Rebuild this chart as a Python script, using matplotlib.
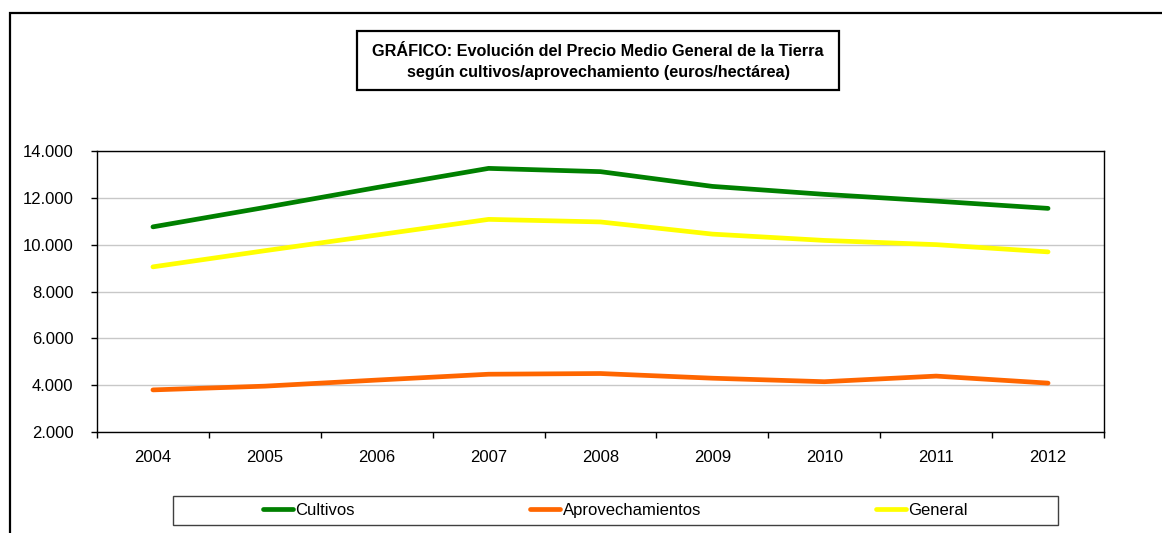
import matplotlib
matplotlib.use("Agg")
import matplotlib.pyplot as plt
from matplotlib.patches import Rectangle
from matplotlib.ticker import FuncFormatter, MultipleLocator
import numpy as np

plt.rcParams['font.family'] = ['Liberation Sans', 'DejaVu Sans']

years = ["2004", "2005", "2006", "2007", "2008", "2009", "2010", "2011", "2012"]
cultivos = [10770, 11600, 12450, 13270, 13130, 12500, 12160, 11870, 11560]
aprovechamientos = [3800, 3960, 4220, 4470, 4500, 4300, 4150, 4390, 4090]
general = [9060, 9750, 10420, 11090, 10980, 10460, 10190, 10010, 9700]

series_names = ["Cultivos", "Aprovechamientos", "General"]
series_colors = ["#008000", "#FF6600", "#FFFF00"]
title_text = "GRÁFICO: Evolución del Precio Medio General de la Tierra\nsegún cultivos/aprovechamiento (euros/hectárea)"

W, H = 1162, 533
fig = plt.figure(figsize=(W / 100, H / 100), dpi=100)
fig.patch.set_facecolor("white")

# axes placement (pixels)
left, right, top, bottom = 97, 1104, 151.3, 432
ax = fig.add_axes([left / W, (H - bottom) / H, (right - left) / W, (bottom - top) / H])

x = np.arange(len(years))
lw = 3.4
for vals, name, col in zip([cultivos, aprovechamientos, general], series_names, series_colors):
    ax.plot(x, vals, color=col, lw=lw, label=name, solid_capstyle="round", solid_joinstyle="round", zorder=3)

ax.set_xlim(-0.5, len(years) - 0.5)
ax.set_ylim(2000, 14000)
ax.yaxis.set_major_locator(MultipleLocator(2000))
ax.yaxis.set_major_formatter(FuncFormatter(lambda v, p: f"{int(v):,}".replace(",", ".")))
ax.grid(axis="y", color="#C8C8C8", lw=1.0, zorder=0)
ax.set_axisbelow(True)

ax.set_xticks(np.arange(-0.5, len(years)), labels=[])
ax.set_xticks(x, labels=years, minor=True)
ax.tick_params(axis="x", which="major", direction="out", length=4, width=1, color="black")
ax.tick_params(axis="x", which="minor", length=0, pad=13, labelsize=12)
ax.tick_params(axis="y", direction="out", length=4, width=1, color="black", pad=13, labelsize=12)
for s in ax.spines.values():
    s.set_color("black")
    s.set_linewidth(1.0)

# outer chart frame
fig.patches.append(Rectangle((10 / W, -0.1), 1.2, (H - 13) / H + 0.1, transform=fig.transFigure,
                             fill=False, edgecolor="black", lw=1.6, zorder=0))

# title box
tx0, tx1, ty0, ty1 = 357, 839, 31, 90
fig.patches.append(Rectangle((tx0 / W, (H - ty1) / H), (tx1 - tx0) / W, (ty1 - ty0) / H,
                             transform=fig.transFigure, fill=False, edgecolor="black", lw=1.6))
fig.text((tx0 + tx1) / 2 / W, (H - 62) / H, title_text, ha="center", va="center",
         fontsize=11.7, fontweight="bold", linespacing=1.55)

# legend box
lx0, lx1, ly0, ly1 = 173, 1058, 496, 525
fig.patches.append(Rectangle((lx0 / W, (H - ly1) / H), (lx1 - lx0) / W, (ly1 - ly0) / H,
                             transform=fig.transFigure, fill=False, edgecolor="#404040", lw=1.0))
fig.legend(loc="center", bbox_to_anchor=((lx0 + lx1) / 2 / W, (H - (ly0 + ly1) / 2) / H),
           ncol=3, frameon=False, fontsize=12, handlelength=1.8, handletextpad=0.15,
           columnspacing=10.5, borderpad=0.2)

fig.savefig("out.png", dpi=100)
